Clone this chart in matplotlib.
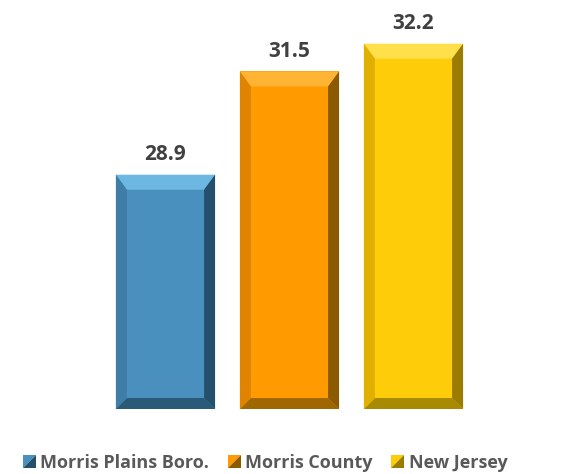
import matplotlib.pyplot as plt
from matplotlib.patches import Polygon
from matplotlib.legend_handler import HandlerBase

categories = ["Morris Plains Boro.", "Morris County", "New Jersey"]
values = [28.9, 31.5, 32.2]

face = ["#4A90BF", "#FF9A00", "#FFCC0A"]
top_c = ["#6DB8E2", "#FFB433", "#FFE04A"]
left_c = ["#3F7DA6", "#E08400", "#E0B000"]
right_c = ["#25506B", "#8C5A00", "#9A7C00"]
bottom_c = ["#2A5A78", "#A06600", "#A88A00"]

plt.rcParams['font.family'] = ['Open Sans', 'DejaVu Sans']

fig = plt.figure(figsize=(5.8, 4.74), dpi=100)
ax = fig.add_axes([0.1784, 0.1371, 0.6414, 0.8629])
ax.set_xlim(-0.5, 2.5)
ax.set_ylim(23, 33.3)
ax.axis("off")

width = 0.8
bars = ax.bar(range(3), values, width=width, color=face, zorder=2)

# bevel size in pixels -> data units
px_x = 0.6414 * 580 / 3.0
px_y = 0.8629 * 474 / 10.3
dx = 11 / px_x
dy_top = 15 / px_y
dy_bot = 11 / px_y

for i, b in enumerate(bars):
    x0 = b.get_x()
    x1 = x0 + b.get_width()
    y0 = 23
    y1 = b.get_height()
    ax.add_patch(Polygon([(x0, y1), (x1, y1), (x1 - dx, y1 - dy_top), (x0 + dx, y1 - dy_top)],
                         color=top_c[i], zorder=3, lw=0))
    ax.add_patch(Polygon([(x0, y0), (x1, y0), (x1 - dx, y0 + dy_bot), (x0 + dx, y0 + dy_bot)],
                         color=bottom_c[i], zorder=3, lw=0))
    ax.add_patch(Polygon([(x0, y0), (x0, y1), (x0 + dx, y1 - dy_top), (x0 + dx, y0 + dy_bot)],
                         color=left_c[i], zorder=3, lw=0))
    ax.add_patch(Polygon([(x1, y0), (x1, y1), (x1 - dx, y1 - dy_top), (x1 - dx, y0 + dy_bot)],
                         color=right_c[i], zorder=3, lw=0))
    ax.annotate(f"{values[i]:.1f}", (b.get_x() + width / 2, y1), xytext=(0, 7),
                textcoords="offset points", ha="center", va="bottom",
                fontsize=15, fontweight="bold", color="#404040")


class BevelHandler(HandlerBase):
    def __init__(self, light, dark):
        super().__init__()
        self.light = light
        self.dark = dark

    def create_artists(self, legend, orig_handle, xdescent, ydescent,
                       width, height, fontsize, trans):
        s = height
        x = -xdescent + (width - s) / 2
        y = -ydescent
        p1 = Polygon([(x, y), (x, y + s), (x + s, y + s)], color=self.light,
                     transform=trans, lw=0)
        p2 = Polygon([(x, y), (x + s, y), (x + s, y + s)], color=self.dark,
                     transform=trans, lw=0)
        return [p1, p2]


handles = [bars[i] for i in range(3)]
hmap = {bars[i]: BevelHandler(face[i], right_c[i]) for i in range(3)}
leg = fig.legend(handles, categories, loc="center", bbox_to_anchor=(0.457, 0.023),
                 ncol=3, frameon=False, handler_map=hmap, handlelength=0.75,
                 handleheight=0.75, handletextpad=0.25, columnspacing=1.0,
                 prop={"size": 13, "weight": "bold"})
for t in leg.get_texts():
    t.set_color("#595959")

fig.savefig("out.png", dpi=100)
